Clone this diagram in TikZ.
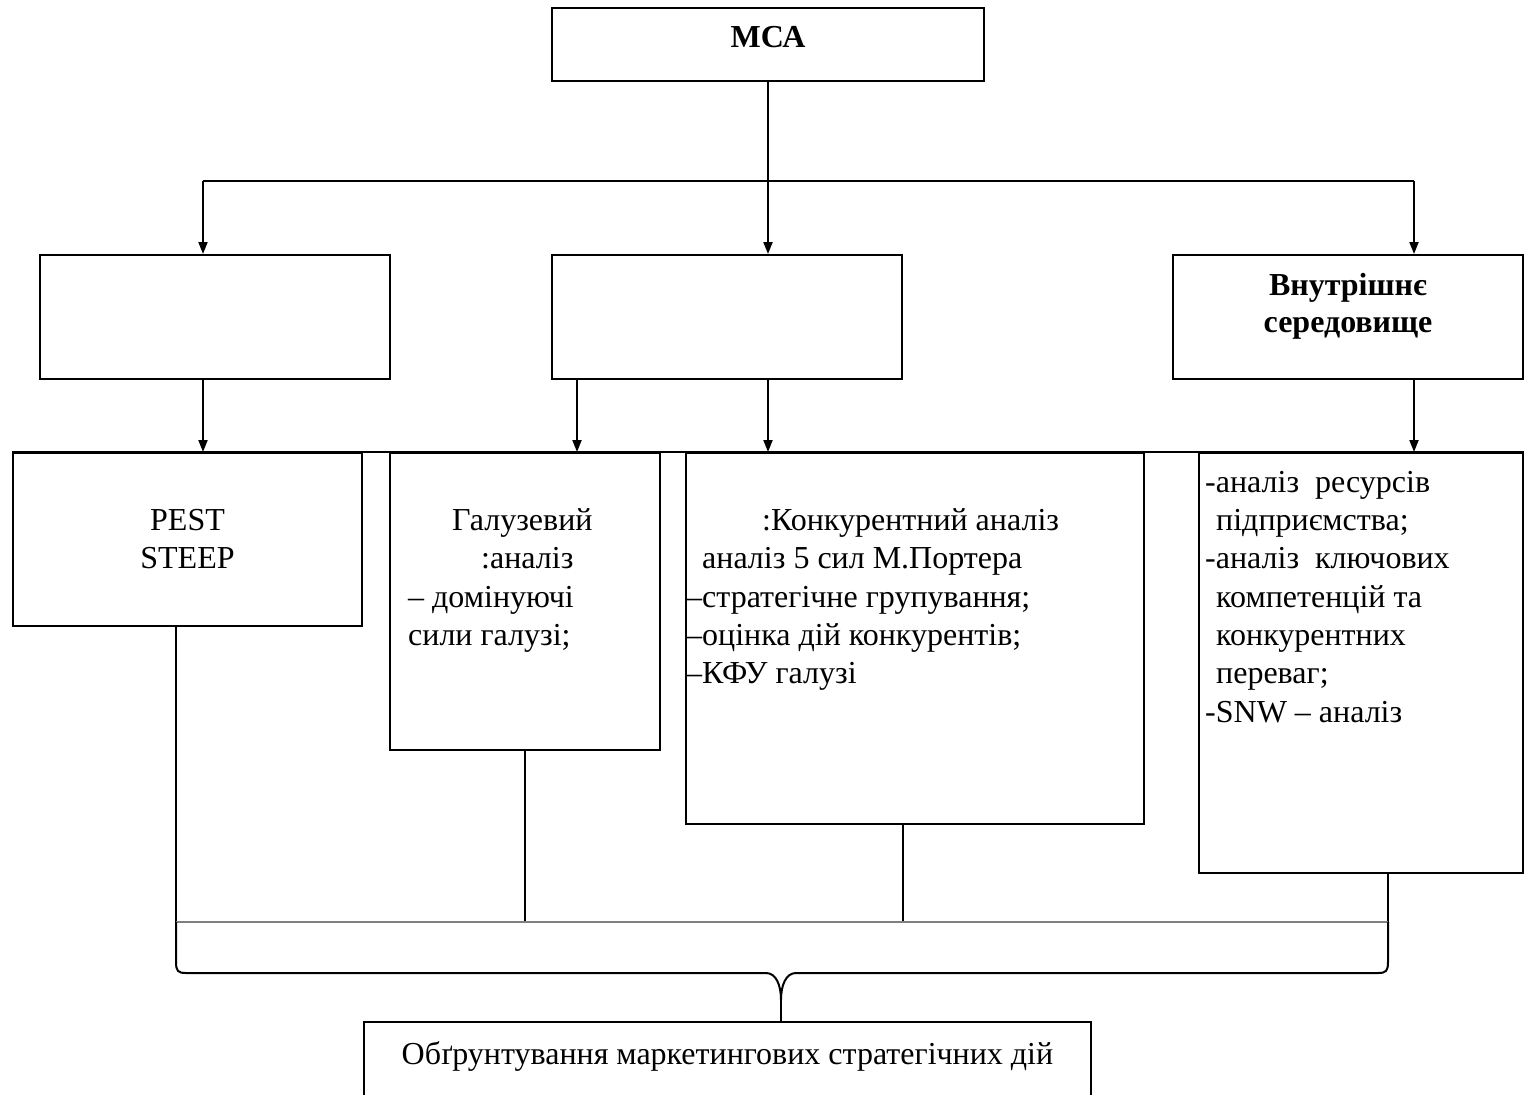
\documentclass[tikz,border=0pt]{standalone}
\usepackage{fontspec}
\setmainfont{Liberation Serif}
\usetikzlibrary{arrows.meta}
\begin{document}
\begin{tikzpicture}[x=1pt,y=-1pt,
  box/.style={draw, line width=2pt, inner sep=0pt},
  arr/.style={line width=2pt, -{Triangle[length=12pt,width=9pt]}},
  conn/.style={line width=2pt},
  thinln/.style={line width=1.5pt},
  txt/.style={inner sep=0pt, font=\fontsize{32}{38}\selectfont},
  btxt/.style={inner sep=0pt, font=\fontsize{32}{38}\selectfont\bfseries}]
\useasboundingbox (0,0) rectangle (1524,1095);

% boxes
\node[box, minimum width=432pt, minimum height=73pt] (mca) at (768,44.5) {};
\node[box, minimum width=350pt, minimum height=124pt] (boxA) at (215,317) {};
\node[box, minimum width=350pt, minimum height=124pt] (boxB) at (727,317) {};
\node[box, minimum width=350pt, minimum height=124pt] (boxC) at (1348,317) {};
\node[box, minimum width=349pt, minimum height=173pt] (pest) at (187.5,539.5) {};
\node[box, minimum width=270pt, minimum height=297pt] (gal) at (525,601.5) {};
\node[box, minimum width=458pt, minimum height=371pt] (kon) at (915,638.5) {};
\node[box, minimum width=324pt, minimum height=420pt] (inner) at (1361,663) {};
\node[box, minimum width=727pt, minimum height=98pt] (result) at (727.5,1071) {};

% texts
\node[btxt, anchor=base] (mcat) at (768,47) {МСА};
\node[btxt, anchor=base] (vn1) at (1348,295) {Внутрішнє};
\node[btxt, anchor=base] (vn2) at (1348,332) {середовище};

\node[txt, anchor=base] (p1) at (187.5,530) {PEST};
\node[txt, anchor=base] (p2) at (187.5,568) {STEEP};

\node[txt, anchor=base west] (g1) at (452,530) {Галузевий};
\node[txt, anchor=base west] (g2) at (481,568) {:аналіз};
\node[txt, anchor=base west] (g3) at (408,607) {– домінуючі};
\node[txt, anchor=base west] (g4) at (408,645) {сили галузі;};

\node[txt, anchor=base west] (k1) at (762,530) {:Конкурентний аналіз};
\node[txt, anchor=base west] (k2) at (702,568) {аналіз 5 сил М.Портера};
\node[txt, anchor=base west] (k3) at (686,607) {–стратегічне групування;};
\node[txt, anchor=base west] (k4) at (686,645) {–оцінка дій конкурентів;};
\node[txt, anchor=base west] (k5) at (686,683) {–КФУ галузі};

\node[txt, anchor=base west] (i1) at (1205,492) {-аналіз\ \ ресурсів};
\node[txt, anchor=base west] (i2) at (1216,530) {підприємства;};
\node[txt, anchor=base west] (i3) at (1205,568) {-аналіз\ \ ключових};
\node[txt, anchor=base west] (i4) at (1216,607) {компетенцій та};
\node[txt, anchor=base west] (i5) at (1216,645) {конкурентних};
\node[txt, anchor=base west] (i6) at (1216,683) {переваг;};
\node[txt, anchor=base west] (i7) at (1205,722) {-SNW – аналіз};

\node[txt, anchor=base] (rt) at (727.5,1064) {Обґрунтування маркетингових стратегічних дій};

% top connectors
\coordinate (hl) at (203,181);
\coordinate (hm) at (768,181);
\coordinate (hr) at (1414,181);
\coordinate (b1) at (577,181);
\draw[conn] (mca.south) -- (hm);
\draw[conn] (hl) -- (hr);
\draw[arr] (hl) -- (hl |- boxA.north);
\draw[arr] (hm) -- (hm |- boxB.north);
\draw[arr] (hr) -- (hr |- boxC.north);

\draw[arr] (boxA.south -| hl) -- (pest.north -| hl);
\draw[arr] (boxB.south -| b1) -- (gal.north -| b1);
\draw[arr] (boxB.south -| hm) -- (kon.north -| hm);
\draw[arr] (boxC.south -| hr) -- (inner.north -| hr);

\draw[conn] (pest.north west) -- (inner.north east);

% bottom connectors
\coordinate (c1) at (176,922);
\coordinate (c2) at (525,922);
\coordinate (c3) at (903,922);
\coordinate (c4) at (1388,922);
\draw[thinln] (pest.south -| c1) -- (c1);
\draw[thinln] (gal.south -| c2) -- (c2);
\draw[thinln] (kon.south -| c3) -- (c3);
\draw[thinln] (inner.south -| c4) -- (c4);
\draw[thinln, gray] (c1) -- (c4);

\coordinate (cusp) at (781,1000);
\draw[conn] (c1) -- (176,962) .. controls (176,971) and (178,973) .. (186,973)
  -- (766,973) .. controls (776,973) and (781,985) .. (cusp)
  .. controls (781,985) and (786,973) .. (796,973)
  -- (1378,973) .. controls (1386,973) and (1388,971) .. (1388,962) -- (c4);
\draw[conn] (cusp) -- (result.north -| cusp);
\end{tikzpicture}
\end{document}
